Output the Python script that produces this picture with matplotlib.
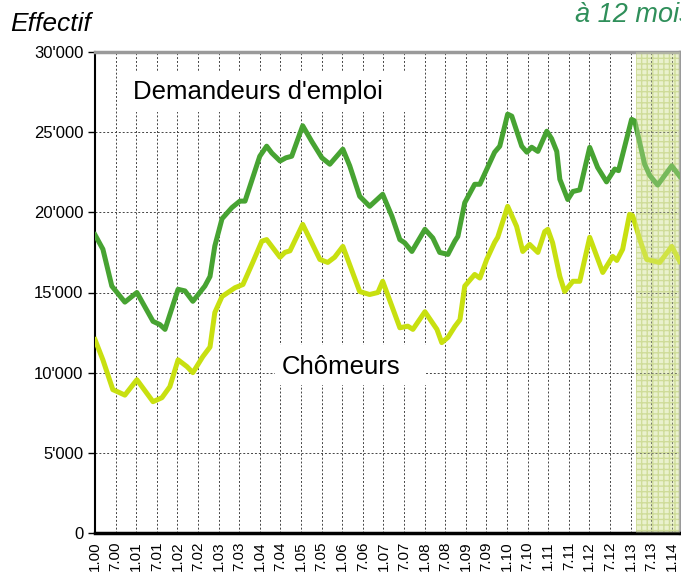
#!/usr/bin/env python3
"""Demandeurs d'emploi et chômeurs, moyenne à 12 mois (2000-2014)."""

import matplotlib
matplotlib.use("Agg")
import matplotlib.pyplot as plt
from matplotlib.patches import Rectangle
from matplotlib.ticker import FuncFormatter

plt.rcParams["font.family"] = ["Liberation Sans", "DejaVu Sans"]

# mois écoulés depuis janvier 2000
dem_months = [0, 2.3, 4.9, 8.7, 12.2, 16.9, 18.9, 20.4, 24.2, 26.2, 28.5, 32, 33.5,
              34.9, 37, 39.9, 42.2, 43.7, 48, 50, 51.5, 53.9, 55.6, 57.3, 60.5,
              63.2, 66.1, 68.4, 72.2, 74.2, 77.1, 80, 83.8, 86.5, 88.8, 90.2, 92.3,
              96.1, 98.4, 100.4, 102.8, 104.8, 105.7, 107.7, 110.6, 112.1, 116.4,
              117.9, 120.2, 121.4, 124.3, 125.8, 127.2, 129, 131.6, 133, 134.5,
              135.4, 137.7, 139.2, 141.2, 144.1, 146.4, 149, 151.4, 152.5, 156.3,
              157.2, 160.1, 161.6, 163.9, 168, 170.3]
dem_values = [18600, 17700, 15400, 14400, 15000, 13200, 13000, 12700, 15200, 15100,
              14450, 15400, 16000, 17900, 19600, 20300, 20700, 20700, 23500, 24125,
              23700, 23200, 23400, 23500, 25400, 24400, 23400, 23000, 23940, 22900,
              21000, 20375, 21125, 19750, 18300, 18100, 17560, 18940, 18400, 17500,
              17375, 18200, 18500, 20600, 21750, 21750, 23750, 24125, 26125, 26000,
              24125, 23750, 24060, 23800, 25060, 24600, 23800, 22060, 20800, 21300,
              21400, 24050, 22800, 21900, 22700, 22600, 25800, 25700, 23000, 22300,
              21700, 22900, 22250]

cho_months = [0, 2.3, 5.2, 6.7, 8.7, 12.2, 16.9, 19.5, 21.8, 24.2, 26.8, 28.5, 31.4,
              33.5, 34.9, 37, 40.8, 43.1, 46, 48.6, 50, 53.9, 55.3, 56.8, 60.5, 65.5,
              67.8, 69.8, 72.2, 77.1, 80, 82.4, 83.8, 88.8, 91.1, 92.6, 96.1, 99.6,
              101, 102.8, 104.8, 106.3, 107.7, 110.6, 112.1, 114.1, 116.4, 117.3,
              120.2, 122.8, 124.6, 126.6, 129, 131, 131.9, 133.3, 135.4, 136.8,
              139.2, 141.2, 144.1, 147.9, 150.8, 152, 153.7, 155.7, 156.6, 158.7,
              160.7, 164.5, 168, 170.3]
cho_values = [12060, 10800, 8940, 8800, 8600, 9560, 8190, 8440, 9125, 10800, 10375,
              10000, 11000, 11600, 13750, 14750, 15300, 15500, 16900, 18200, 18300,
              17200, 17500, 17600, 19250, 17060, 16875, 17200, 17875, 15060, 14875,
              15000, 15700, 12800, 12900, 12700, 13800, 12700, 11875, 12200, 12875,
              13300, 15400, 16125, 15900, 17060, 18125, 18440, 20375, 19125, 17560,
              18000, 17500, 18800, 18940, 18100, 16000, 15060, 15700, 15700, 18440,
              16250, 17250, 17000, 17700, 19875, 19800, 18300, 17060, 16875, 17875,
              16940]

tick_labels = [f"{m}.{y:02d}" for y in range(0, 15) for m in (1, 7)][:-1]
forecast_start = 157.5  # zone hachurée (début 2013)

DEM_COLOR = "#47a332"
CHO_COLOR = "#c8e010"

fig = plt.figure(figsize=(6.81, 5.80), dpi=100)
ax = fig.add_axes([95 / 681, 47 / 580, 585 / 681, 481 / 580])

ax.plot(dem_months, dem_values, color=DEM_COLOR, lw=3.6, solid_joinstyle="round", zorder=3)
ax.plot(cho_months, cho_values, color=CHO_COLOR, lw=3.6, solid_joinstyle="round", zorder=3)

# zone hachurée : trame sous les courbes, voile léger par-dessus
ax.axvspan(forecast_start, 171, facecolor="#eef4d6", edgecolor="#c6d68a", hatch="+++",
           lw=0, zorder=1.5)
ax.axvspan(forecast_start, 171, facecolor="#e4edbd", alpha=0.3, edgecolor="none", zorder=4)

ax.set_xlim(0, 170.4)
ax.set_ylim(0, 30000)

xt = [6 * i for i in range(len(tick_labels))]
ax.set_xticks(xt)
ax.set_xticklabels(tick_labels, rotation=90, fontsize=11)
ax.set_xticks([12 * i for i in range(15)], minor=True)
ax.tick_params(axis="x", which="major", length=0, pad=6)
ax.tick_params(axis="x", which="minor", length=6, width=1.5, direction="out")

ax.set_yticks(range(0, 30001, 5000))
ax.yaxis.set_major_formatter(FuncFormatter(
    lambda v, _: f"{int(v) // 1000}'000" if v else "0"))
ax.tick_params(axis="y", length=5, width=1, labelsize=12)

ax.grid(True, color="#444444", ls=(0, (2, 2)), lw=0.7, zorder=1)

for side in ("top", "right"):
    ax.spines[side].set_color("#9a9a9a")
    ax.spines[side].set_linewidth(2.5)
ax.spines["left"].set_linewidth(1.5)
ax.spines["bottom"].set_linewidth(2.5)

# étiquettes des séries sur fond blanc
ax.add_patch(Rectangle((0.051, 0.875), 0.496, 0.083, transform=ax.transAxes,
                       facecolor="white", edgecolor="none", zorder=2))
ax.add_patch(Rectangle((0.308, 0.308), 0.258, 0.083, transform=ax.transAxes,
                       facecolor="white", edgecolor="none", zorder=2))
ax.text(0.065, 0.917, "Demandeurs d'emploi", transform=ax.transAxes,
        fontsize=18.5, va="center", ha="left", zorder=5)
ax.text(0.320, 0.345, "Chômeurs", transform=ax.transAxes,
        fontsize=18.5, va="center", ha="left", zorder=5)

fig.text(10 / 681, 1 - 24 / 580, "Effectif", fontsize=19, style="italic", va="center")
# coupé au bord droit comme dans l'original
fig.text(575 / 681, 1 - 15 / 580, "à 12 mois", fontsize=19.5, style="italic",
         color="#2f8f5a", va="center")

fig.savefig("out.png", dpi=100)
